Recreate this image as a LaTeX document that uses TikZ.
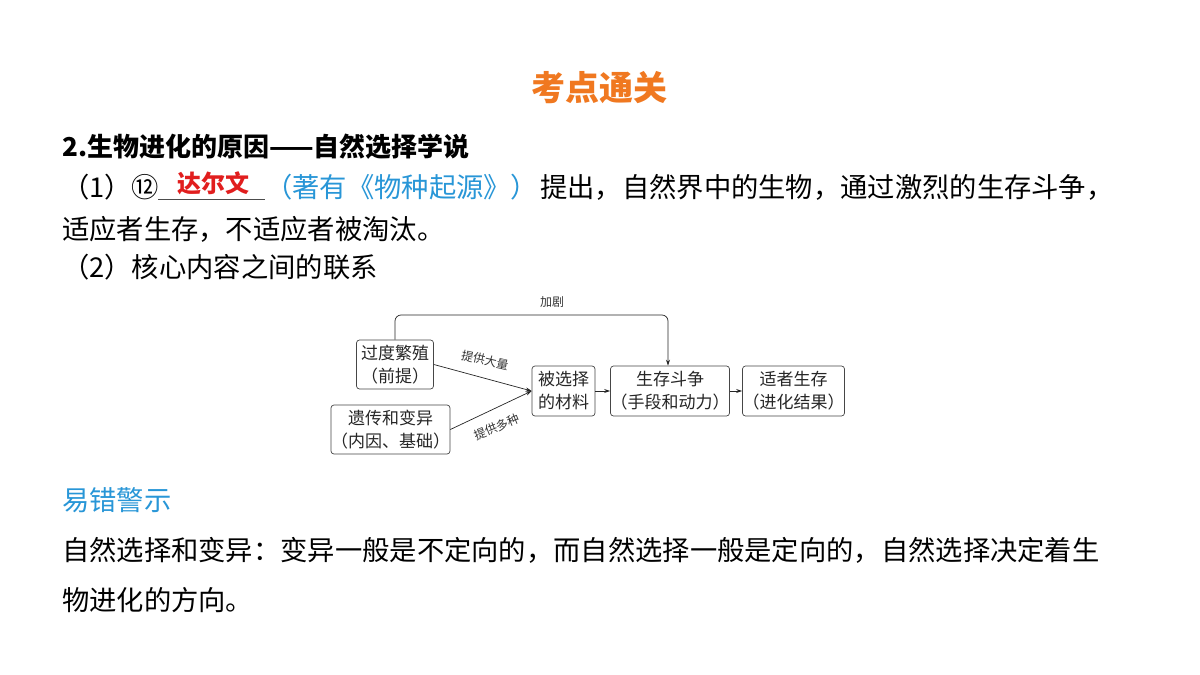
\documentclass[tikz,border=0pt]{standalone}
\usepackage{fontspec}
\setmainfont{Noto Sans CJK SC}
\usetikzlibrary{arrows.meta}
\definecolor{org}{RGB}{240,120,32}
\definecolor{blu}{RGB}{40,150,215}
\definecolor{rd}{RGB}{225,30,30}
\definecolor{gr}{RGB}{70,70,70}
\begin{document}
\begin{tikzpicture}[x=1pt,y=-1pt,
  txt/.style={anchor=west,inner sep=0,font=\fontsize{27.3}{30}\selectfont},
  bx/.style={draw=gr,rounded corners=3pt,line width=0.7pt,align=center,inner sep=0,font=\fontsize{17}{23}\selectfont,text=black!85},
  arr/.style={-{Stealth[length=6pt,width=4pt]},line width=0.7pt,draw=black!85},
  lab/.style={font=\fontsize{12}{14}\selectfont,text=black!80,inner sep=0pt}]
\useasboundingbox (0,0) rectangle (1200,675);
\fill[white] (0,0) rectangle (1200,675);
\node[font=\bfseries\fontsize{34}{38}\selectfont,text=org] (title) at (599,88) {考点通关};
\node[txt,font=\bfseries\fontsize{26}{30}\selectfont] (h) at (62,147) {2.生物进化的原因——自然选择学说};
\node[txt] (l1a) at (62,187) {（1）⑫};
\coordinate (u1) at (158,199); \coordinate (u2) at (265,199);
\draw[line width=0.6pt,black!70] (u1) -- (u2);
\node[font=\bfseries\fontsize{24}{28}\selectfont,text=rd,inner sep=0] (dar) at (213,183) {达尔文};
\node[txt,text=blu] (l1b) at (265,187) {（著有《物种起源》）};
\node[txt] (l1c) at (540,187) {提出，自然界中的生物，通过激烈的生存斗争，};
\node[txt] (l2) at (62,229) {适应者生存，不适应者被淘汰。};
\node[txt] (l3) at (62,267) {（2）核心内容之间的联系};
\node[bx,minimum width=77pt,minimum height=49pt] (A) at (395,364.5) {过度繁殖\\（前提）};
\node[bx,minimum width=115pt,minimum height=49pt] (B) at (390.5,429.5) {遗传和变异\\（内因、基础）};
\node[bx,minimum width=63pt,minimum height=50pt] (C) at (563.5,391) {被选择\\的材料};
\node[bx,minimum width=114pt,minimum height=50pt] (D) at (670,391) {生存斗争\\（手段和动力）};
\node[bx,minimum width=93pt,minimum height=50pt] (E) at (793.5,391) {适者生存\\（进化结果）};
\coordinate (cin) at (C.west);
\draw[arr] (A.east) -- (cin);
\draw[arr] (B.east) -- (cin);
\draw[arr] (C) -- (D);
\draw[arr] (D) -- (E);
\draw[arr,rounded corners=6pt] (A.north) |- (668,315) -- (D.north -| 668,0);
\node[lab] (l0) at (552,302) {加剧};
\node[lab,rotate=-13] (lt) at (485,360) {提供大量};
\node[lab,rotate=22] (lb) at (497,427) {提供多种};
\node[txt,text=blu] (w) at (62,500) {易错警示};
\node[txt] (p1) at (62,550) {自然选择和变异：变异一般是不定向的，而自然选择一般是定向的，自然选择决定着生};
\node[txt] (p2) at (62,600) {物进化的方向。};
\end{tikzpicture}
\end{document}
